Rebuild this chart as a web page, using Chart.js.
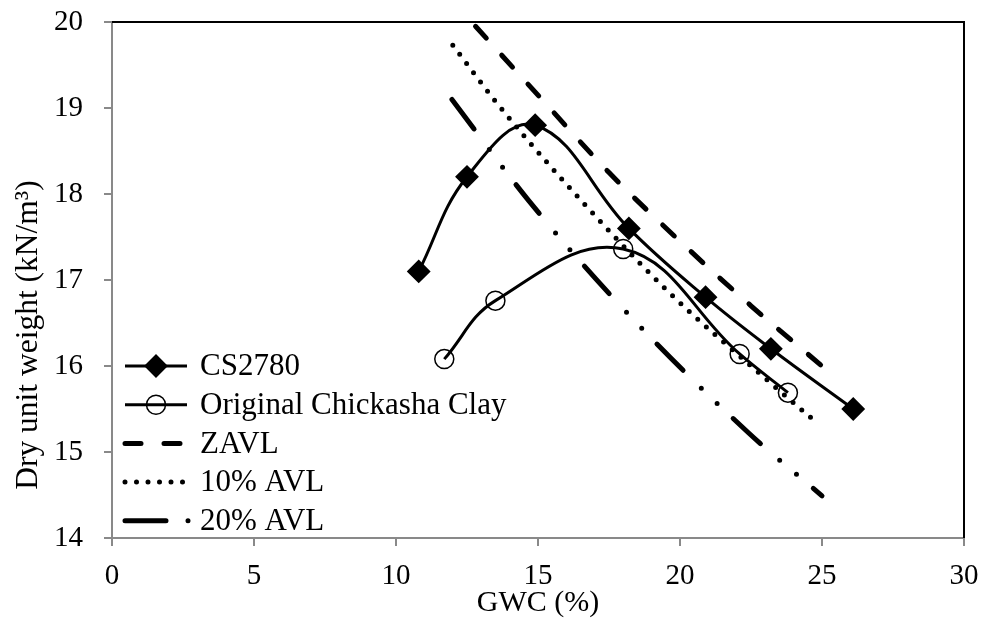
<!DOCTYPE html>
<html>
<head>
<meta charset="utf-8">
<script src="https://cdn.jsdelivr.net/npm/chart.js@4.4.1/dist/chart.umd.min.js"></script>
<style>
  body { margin: 0; background: #fff; }
  #wrap { width: 984px; height: 623px; position: relative; }
</style>
</head>
<body>
<div id="wrap"><canvas id="compactionChart"></canvas></div>
<script>
// GWC (%) and dry unit weight (kN/m3)
const cs2780Gwc = [10.8, 12.5, 14.9, 18.2, 20.9, 23.2, 26.1];
const cs2780Dry = [17.1, 18.2, 18.8, 17.6, 16.8, 16.2, 15.5];

const clayGwc = [11.7, 13.5, 18.0, 22.1, 23.8];
const clayDry = [16.08, 16.76, 17.36, 16.14, 15.69];

const zavlGwc = [12.8, 15.0, 17.5, 20.0, 22.5, 25.0];
const zavlDry = [19.95, 19.15, 18.25, 17.45, 16.7, 16.0];

const avl10Gwc = [12.0, 13.45, 15.74, 19.54, 23.06, 24.85];
const avl10Dry = [19.73, 19.1, 18.21, 16.88, 15.84, 15.33];

const avl20Gwc = [11.97, 14.68, 18.13, 22.39, 25.0];
const avl20Dry = [19.1, 17.92, 16.62, 15.23, 14.49];

const xTicks = [0, 5, 10, 15, 20, 25, 30];
const yTicks = [14, 15, 16, 17, 18, 19, 20];

const FONT = "'Liberation Serif', 'Times New Roman', serif";
const AXIS_GRAY = "#898989";

function pts(xs, ys) {
  return xs.map((x, i) => ({ x: x, y: ys[i] }));
}

// legend drawn inside the plot, bottom-left, like the Excel original
const insideLegend = {
  id: "insideLegend",
  afterDraw(chart) {
    const ctx = chart.ctx;
    const area = chart.chartArea;
    ctx.save();
    // black frame on top and right
    ctx.strokeStyle = "#000";
    ctx.lineWidth = 2;
    ctx.beginPath();
    ctx.moveTo(area.left, area.top);
    ctx.lineTo(area.right, area.top);
    ctx.lineTo(area.right, area.bottom);
    ctx.stroke();

    const rowY = [366, 404.7, 443.4, 482.1, 520.8];
    chart.data.datasets.forEach((ds, i) => {
      const y = rowY[i];
      const x0 = 125;
      const x1 = ds.borderDash && ds.borderDash.length ? 190 : 187;
      ctx.save();
      ctx.strokeStyle = ds.borderColor;
      ctx.lineWidth = ds.borderWidth;
      ctx.lineCap = ds.borderCapStyle || "butt";
      ctx.setLineDash(ds.legendDash || ds.borderDash || []);
      ctx.beginPath();
      ctx.moveTo(x0, y);
      ctx.lineTo(x1, y);
      ctx.stroke();
      ctx.restore();
      if (ds.pointRadius > 0) {
        ctx.save();
        ctx.fillStyle = ds.pointBackgroundColor;
        ctx.strokeStyle = ds.pointBorderColor;
        ctx.lineWidth = ds.pointBorderWidth;
        ctx.setLineDash([]);
        Chart.helpers.drawPoint(ctx, {
          pointStyle: ds.pointStyle,
          radius: ds.pointRadius,
          rotation: 0,
          borderWidth: ds.pointBorderWidth,
        }, (x0 + 187) / 2, y);
        ctx.restore();
      }
      ctx.fillStyle = "#000";
      ctx.font = "31px " + FONT;
      ctx.textAlign = "left";
      ctx.textBaseline = "middle";
      ctx.fillText(ds.label, 200, y + 1);
    });

    // y axis title
    ctx.translate(29, 335);
    ctx.rotate(-Math.PI / 2);
    ctx.fillStyle = "#000";
    ctx.font = "31.5px " + FONT;
    ctx.textAlign = "center";
    ctx.textBaseline = "middle";
    ctx.fillText("Dry unit weight (kN/m\u00B3)", 0, 0);
    ctx.restore();
  },
};

const ctx = document.getElementById("compactionChart").getContext("2d");
new Chart(ctx, {
  type: "line",
  data: {
    datasets: [
      {
        label: "CS2780",
        data: pts(cs2780Gwc, cs2780Dry),
        borderColor: "#000",
        borderWidth: 3,
        tension: 0.4,
        pointStyle: "rectRot",
        pointRadius: 10.5,
        pointBorderWidth: 2,
        pointBackgroundColor: "#000",
        pointBorderColor: "#000",
      },
      {
        label: "Original Chickasha Clay",
        data: pts(clayGwc, clayDry),
        borderColor: "#000",
        borderWidth: 3,
        tension: 0.4,
        pointStyle: "circle",
        pointRadius: 9.5,
        pointBorderWidth: 1.5,
        pointBackgroundColor: "rgba(0,0,0,0)",
        pointBorderColor: "#000",
      },
      {
        label: "ZAVL",
        data: pts(zavlGwc, zavlDry),
        borderColor: "#000",
        borderWidth: 5,
        borderCapStyle: "round",
        borderDash: [16, 23],
        cubicInterpolationMode: "monotone",
        pointRadius: 0,
      },
      {
        label: "10% AVL",
        data: pts(avl10Gwc, avl10Dry),
        borderColor: "#000",
        borderWidth: 5,
        borderCapStyle: "round",
        borderDash: [0, 11.5],
        cubicInterpolationMode: "monotone",
        pointRadius: 0,
      },
      {
        label: "20% AVL",
        data: pts(avl20Gwc, avl20Dry),
        borderColor: "#000",
        borderWidth: 5,
        borderCapStyle: "round",
        borderDash: [37, 25.5, 0, 22, 0, 22],
        legendDash: [41, 22, 0, 40],
        cubicInterpolationMode: "monotone",
        pointRadius: 0,
      },
    ],
  },
  options: {
    responsive: true,
    maintainAspectRatio: false,
    animation: false,
    layout: { padding: { top: 22, right: 20, left: 0, bottom: 0 } },
    plugins: {
      legend: { display: false },
      tooltip: { enabled: false },
    },
    scales: {
      x: {
        type: "linear",
        min: 0,
        max: 30,
        afterFit: (scale) => {
          scale.height = 85;
          scale.paddingLeft = 0;
          scale.paddingRight = 0;
        },
        afterBuildTicks: (scale) => { scale.ticks = xTicks.map((v) => ({ value: v })); },
        ticks: {
          color: "#000",
          padding: 13,
          font: { family: FONT, size: 29 },
        },
        grid: {
          drawOnChartArea: false,
          drawTicks: true,
          tickLength: 8,
          color: AXIS_GRAY,
          lineWidth: 2,
        },
        border: { display: true, color: AXIS_GRAY, width: 2 },
        title: {
          display: true,
          text: "GWC (%)",
          color: "#000",
          font: { family: FONT, size: 30 },
          padding: { top: 0, bottom: 2 },
        },
      },
      y: {
        type: "linear",
        min: 14,
        max: 20,
        afterFit: (scale) => {
          scale.width = 112;
          scale.paddingTop = 0;
          scale.paddingBottom = 0;
        },
        afterBuildTicks: (scale) => { scale.ticks = yTicks.map((v) => ({ value: v })); },
        ticks: {
          color: "#000",
          padding: 21,
          font: { family: FONT, size: 29 },
        },
        grid: {
          drawOnChartArea: false,
          drawTicks: true,
          tickLength: 8,
          color: AXIS_GRAY,
          lineWidth: 2,
        },
        border: { display: true, color: AXIS_GRAY, width: 2 },
      },
    },
  },
  plugins: [insideLegend],
});
</script>
</body>
</html>
